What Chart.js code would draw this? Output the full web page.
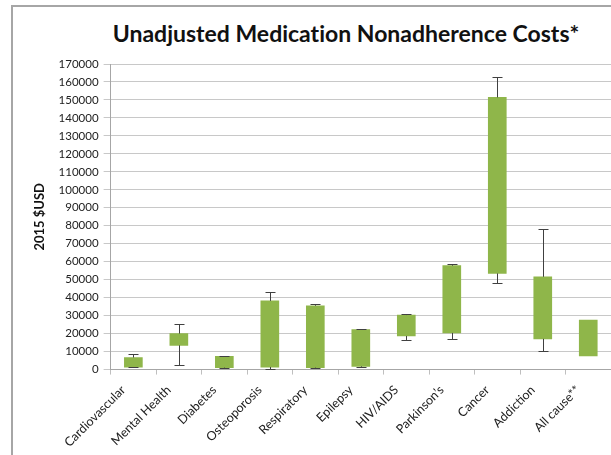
<!DOCTYPE html>
<html>
<head>
<meta charset="utf-8">
<script src="https://cdn.jsdelivr.net/npm/chart.js@4"></script>
<style>
  html, body { margin: 0; padding: 0; background: #fff; }
  #wrap { position: relative; width: 611px; height: 455px; overflow: hidden; }
  #frame { position: absolute; left: 11px; top: 5px; width: 620px; height: 470px;
           border-left: 2px solid #a6a6a6; border-top: 2px solid #a6a6a6; box-sizing: border-box; }
  #title { position: absolute; left: 0; top: 19px; width: 692px; text-align: center;
           font-family: Lato, "Open Sans", sans-serif; font-weight: bold; font-size: 23px; color: #111;
           font-variant-ligatures: none; }
  canvas { position: absolute; left: 0; top: 0; }
</style>
</head>
<body>
<div id="wrap">
  <div id="frame"></div>
  <div id="title">Unadjusted Medication Nonadherence Costs*</div>
  <canvas id="c" width="611" height="455"></canvas>
</div>
<script>
const categories = ['Cardiovascular', 'Mental Health', 'Diabetes', 'Osteoporosis', 'Respiratory', 'Epilepsy', 'HIV/AIDS', 'Parkinson\u2019s', 'Cancer', 'Addiction', 'All cause**'];
const boxLow      = [1300, 13500, 1100, 1400, 1100, 1800, 18700, 20400, 53500, 17100, 7600];
const boxHigh     = [6700, 20000, 7300, 38200, 35500, 22300, 30300, 57800, 151400, 51600, 27500];
const whiskerLow  = [1200, 2400, 1000, 400, 800, 1500, 16700, 17100, 48300, 10400, null];
const whiskerHigh = [8400, 25600, 7500, 43100, 36200, 22500, 30700, 58500, 162800, 78200, null];
const yTicks = [0, 10000, 20000, 30000, 40000, 50000, 60000, 70000, 80000, 90000, 100000, 110000, 120000, 130000, 140000, 150000, 160000, 170000];

const whiskerPlugin = {
  id: 'whiskers',
  afterDatasetsDraw(chart) {
    const ctx = chart.ctx;
    const xs = chart.scales.x, ys = chart.scales.y;
    ctx.save();
    ctx.strokeStyle = '#404040';
    ctx.lineWidth = 1;
    const cap = 5;
    categories.forEach((c, i) => {
      if (whiskerLow[i] == null || whiskerHigh[i] == null) return;
      const x = Math.round(xs.getPixelForValue(i)) + 0.5;
      const yHi = Math.round(ys.getPixelForValue(whiskerHigh[i])) + 0.5;
      const yLo = Math.round(ys.getPixelForValue(whiskerLow[i])) + 0.5;
      const bHi = ys.getPixelForValue(boxHigh[i]);
      const bLo = ys.getPixelForValue(boxLow[i]);
      ctx.beginPath();
      ctx.moveTo(x, yHi); ctx.lineTo(x, bHi);
      ctx.moveTo(x, bLo); ctx.lineTo(x, yLo);
      ctx.moveTo(x - cap, yHi); ctx.lineTo(x + cap, yHi);
      ctx.moveTo(x - cap, yLo); ctx.lineTo(x + cap, yLo);
      ctx.stroke();
    });
    ctx.restore();
  }
};

const FONT = 'Lato, "Open Sans", sans-serif';

new Chart(document.getElementById('c'), {
  type: 'bar',
  data: {
    labels: categories,
    datasets: [{
      data: categories.map((c, i) => [boxLow[i], boxHigh[i]]),
      backgroundColor: '#8fb64a',
      borderWidth: 0,
      barThickness: 18
    }]
  },
  plugins: [whiskerPlugin],
  options: {
    responsive: false,
    animation: false,
    layout: { padding: { top: 64, right: -8, left: 32, bottom: -3 } },
    plugins: { legend: { display: false }, tooltip: { enabled: false } },
    scales: {
      x: {
        grid: { drawOnChartArea: false, drawTicks: true, tickLength: 5, color: '#bfbfbf', offset: true },
        border: { color: '#a6a6a6' },
        ticks: { color: '#222', font: { family: FONT, size: 12.5 }, minRotation: 45, maxRotation: 45, padding: 8, labelOffset: -10, autoSkip: false }
      },
      y: {
        min: 0, max: 170000,
        afterBuildTicks(scale) { scale.ticks = yTicks.map(v => ({ value: v })); },
        grid: { color: '#c8c8c8', tickLength: 7 },
        border: { color: '#a6a6a6' },
        ticks: { color: '#222', font: { family: FONT, size: 11.5 }, padding: 5, autoSkip: false, callback: v => String(v) },
        title: { display: true, text: '2015 $USD', color: '#111', font: { family: FONT, size: 13, weight: 'bold' }, padding: { top: 0, bottom: 6 } }
      }
    }
  }
});
</script>
</body>
</html>
